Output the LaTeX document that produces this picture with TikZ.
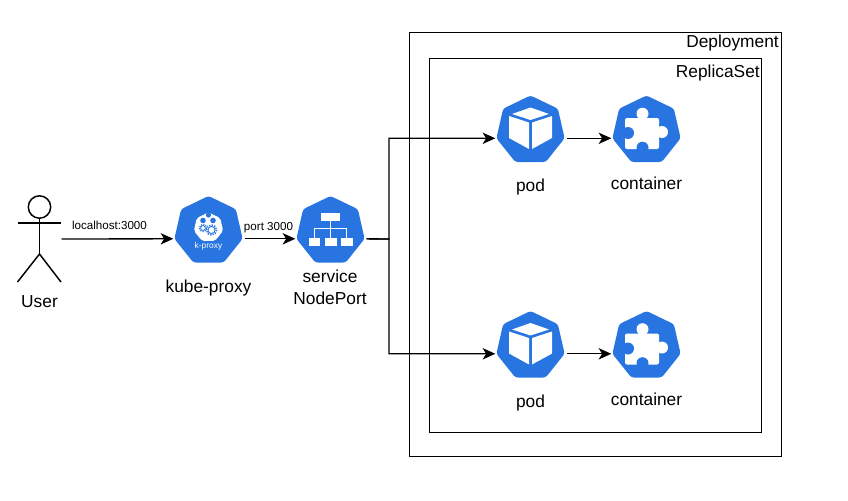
\documentclass[tikz,border=0pt]{standalone}
\usepackage{fontspec}
\setmainfont{Liberation Sans}
\usetikzlibrary{shapes.geometric,arrows.meta}
\definecolor{kblue}{HTML}{2875E2}
\tikzset{
  x=0.75pt,y=-0.75pt,
  frame/.style={draw=black,line width=1.1pt,fill=none},
  hept/.style={regular polygon,regular polygon sides=7,minimum size=52.5pt,inner sep=0pt,outer sep=0pt,fill=kblue,rounded corners=2pt},
  wire/.style={draw=black,line width=1pt},
  link/.style={wire,shorten <=1.5pt,shorten >=0.8pt,-{Stealth[length=9.5pt,width=8.5pt,inset=2.6pt]}},
  txt/.style={anchor=base,inner sep=0pt,font=\fontsize{13pt}{15pt}\selectfont},
  small/.style={anchor=base,inner sep=0pt,font=\fontsize{8.7pt}{10pt}\selectfont},
  actorline/.style={draw=black,line width=1.1pt},
  pics/podicon/.style={code={
    \fill[white,rounded corners=0.3pt] (0,-23) -- (18.5,-16.5) -- (0,-10.5) -- (-18.5,-16.5) -- cycle;
    \fill[white,rounded corners=0.3pt] (-21.5,-14.5) -- (-1.5,-8) -- (-1.5,18.5) -- (-21.5,7.5) -- cycle;
    \fill[white,rounded corners=0.3pt] (1.5,-8) -- (21.5,-14.5) -- (21.5,7.5) -- (1.5,18.5) -- cycle;
  }},
  pics/puzzleicon/.style={code={
    \fill[white,rounded corners=1.5pt] (-21.5,-12.5) rectangle (12.5,18.5);
    \fill[white] (-4,-16.8) circle (6);
    \fill[white] (-8,-14) rectangle (0,-11);
    \fill[white] (15.5,1.5) circle (6);
    \fill[white] (11,-2.5) rectangle (15,5.5);
    \fill[kblue] (-18.5,2.5) circle (6);
    \fill[kblue] (-24,-1.5) rectangle (-19,6.5);
    \fill[kblue] (-4,17.2) circle (6);
    \fill[kblue] (-8,17.5) rectangle (0,21);
  }},
  pics/treeicon/.style={code={
    \fill[white] (-9.2,-18.2) rectangle (9.7,-9.8);
    \fill[white] (-21.5,6.7) rectangle (-10.3,15.3);
    \fill[white] (-5.6,6.7) rectangle (6,15.3);
    \fill[white] (10.3,6.7) rectangle (22,15.3);
    \draw[white,line width=0.9pt] (0.2,-10) -- (0.2,7);
    \draw[white,line width=0.9pt] (-16,7) -- (-16,-2.5) -- (16,-2.5) -- (16,7);
  }},
  pics/proxyicon/.style={code={
    \node[regular polygon,regular polygon sides=7,minimum size=22.5pt,inner sep=0pt,fill=white,rounded corners=1.5pt] (inner) at (0,-3.6) {};
    \fill[kblue] (0,-16) circle (2.6);
    \fill[kblue] (-5.5,-10.5) circle (2.8);
    \fill[kblue] (4.5,-10.5) circle (2.8);
    \draw[kblue,line width=0.6pt] (-5.5,-3) circle (2.4);
    \draw[kblue,line width=0.9pt,dash pattern=on 0.9pt off 0.9pt] (-5.5,-3) circle (3.6);
    \draw[kblue,line width=0.7pt] (3,-1) circle (3.6);
    \draw[kblue,line width=1pt,dash pattern=on 1pt off 1pt] (3,-1) circle (5.2);
    \node[anchor=base,inner sep=0pt,text=white,font=\fontsize{6.3pt}{7pt}\selectfont] (kptext) at (0,17.5) {k-proxy};
  }},
}
\begin{document}
\begin{tikzpicture}
\useasboundingbox[fill=white] (0,0) rectangle (848,500);

% containers
\node[frame,rectangle,inner sep=0pt,minimum width=279pt,minimum height=318pt,anchor=north west] (deploy) at (409,32) {};
\node[frame,rectangle,inner sep=0pt,minimum width=249pt,minimum height=280.5pt,anchor=north west] (rs) at (429,58) {};

% actor
\node[inner sep=0pt,minimum width=32.6pt,minimum height=64.5pt] (user) at (39.5,239) {};
\draw[actorline] (39.5,207) circle (11.2);
\draw[actorline] (39.5,218.2) -- (39.5,254);
\draw[actorline] (17.5,223) -- (61,223);
\draw[actorline] (17.5,282) -- (39.5,254) -- (61,282);

% k8s nodes
\node[hept] (kp) at (208.5,231) {};
\node[hept] (svc) at (330.5,231) {};
\node[hept] (pod1) at (530.5,130.5) {};
\node[hept] (con1) at (646.5,130.5) {};
\node[hept] (pod2) at (530.5,346) {};
\node[hept] (con2) at (646.5,346) {};
\pic at (kp.center) {proxyicon};
\pic at (svc.center) {treeicon};
\pic at (pod1.center) {podicon};
\pic at (pod2.center) {podicon};
\pic at (con1.center) {puzzleicon};
\pic at (con2.center) {puzzleicon};

% connectors
\coordinate (bus) at (389,239);
\draw[link,shorten <=0pt] (user.east) -- (kp.corner 3);
\draw[link] (kp.corner 6) -- (svc.corner 3);
\draw[link] (svc.corner 6) -- (bus) |- (pod1.corner 3);
\draw[link] (svc.corner 6) -- (bus) |- (pod2.corner 3);
\draw[link] (pod1.corner 6) -- (con1.corner 3);
\draw[link] (pod2.corner 6) -- (con2.corner 3);

% labels
\node[txt] (tuser) at (39.5,307.5) {User};
\node[small] (tlocal) at (109.5,229.5) {localhost:3000};
\node[small] (tport) at (268.5,230) {port 3000};
\node[txt] (tkp) at (208.5,292) {kube-proxy};
\node[txt] (tsvc) at (330,282.5) {service};
\node[txt] (tnp) at (330,304.5) {NodePort};
\node[txt] (tpod1) at (530.5,191.5) {pod};
\node[txt] (tcon1) at (646.5,189.5) {container};
\node[txt] (tpod2) at (530.5,407.5) {pod};
\node[txt] (tcon2) at (646.5,405.5) {container};
\node[txt,anchor=base east] (tdep) at (779,47.5) {Deployment};
\node[txt,anchor=base east] (trs) at (760,77) {ReplicaSet};
\end{tikzpicture}
\end{document}
